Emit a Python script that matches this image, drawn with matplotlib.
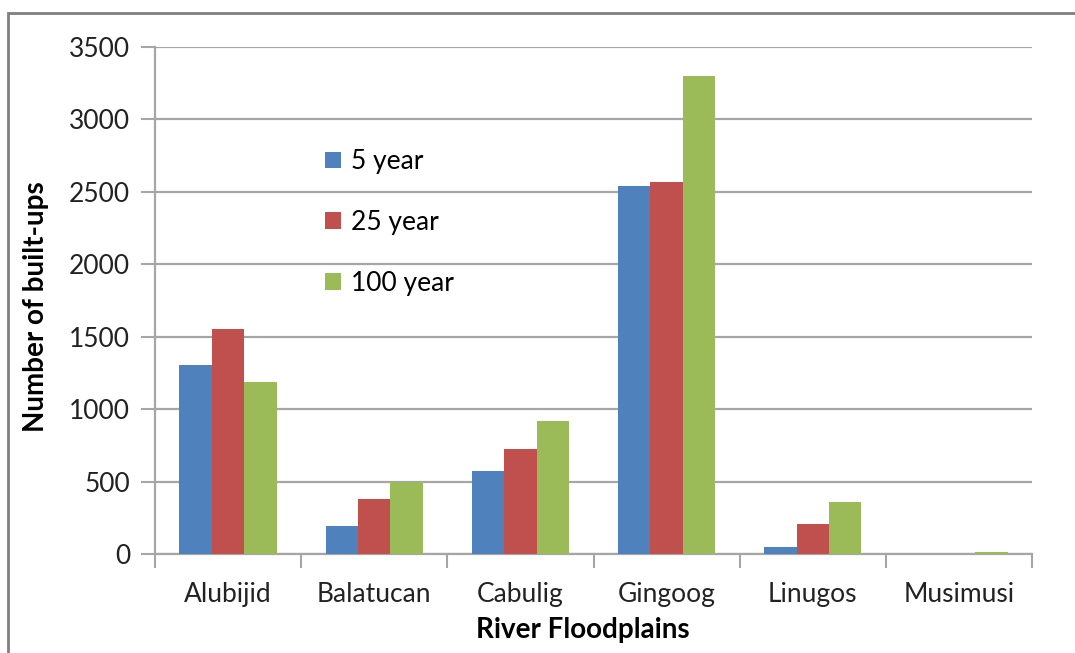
import numpy as np
import matplotlib
matplotlib.use("Agg")
import matplotlib.pyplot as plt
from matplotlib.patches import Rectangle

floodplains = ["Alubijid", "Balatucan", "Cabulig", "Gingoog", "Linugos", "Musimusi"]
series_names = ["5 year", "25 year", "100 year"]
year5 = [1304, 190, 576, 2539, 50, 0]
year25 = [1553, 378, 726, 2569, 207, 0]
year100 = [1187, 495, 921, 3300, 357, 15]
colors = ["#4F81BD", "#C0504D", "#9BBB59"]

plt.rcParams['font.family'] = ['Lato', 'DejaVu Sans']
fs = 19

fig = plt.figure(figsize=(10.75, 6.53), dpi=100)
ax = fig.add_axes([155/1075, 1 - 554/653, (1032 - 155)/1075, (554 - 47)/653])

x = np.arange(len(floodplains))
w = 0.222
for i, (vals, name) in enumerate(zip([year5, year25, year100], series_names)):
    ax.bar(x + (i - 1)*w, vals, width=w, color=colors[i], label=name, zorder=3)

ax.set_xlim(-0.5, len(floodplains) - 0.5)
ax.set_ylim(0, 3500)
ax.set_yticks(np.arange(0, 3501, 500))
ax.yaxis.grid(True, color="#a6a6a6", linewidth=1.6, zorder=0)
ax.set_axisbelow(True)

# category boundaries as tick marks, names in the middle
ax.set_xticks(np.arange(-0.5, len(floodplains), 1))
ax.set_xticklabels([])
ax.set_xticks(x, minor=True)
ax.set_xticklabels(floodplains, minor=True, fontsize=fs, color="#222222")
ax.tick_params(axis="x", which="minor", length=0, pad=20)
ax.tick_params(axis="x", which="major", length=10, width=1.5, color="#a6a6a6", direction="out")
ax.tick_params(axis="y", length=10, width=1.5, color="#a6a6a6", labelsize=fs,
               labelcolor="#222222", pad=8)

for s in ["top", "right"]:
    ax.spines[s].set_visible(False)
for s in ["left", "bottom"]:
    ax.spines[s].set_color("#a6a6a6")
    ax.spines[s].set_linewidth(1.6)
    ax.spines[s].set_zorder(2)

ax.set_xlabel("River Floodplains", fontsize=20, fontweight="bold")
ax.set_ylabel("Number of built-ups", fontsize=20, fontweight="bold")
ax.xaxis.set_label_coords(0.488, -0.124)
ax.yaxis.set_label_coords(-0.121, 0.487)

ax.legend(loc="upper left", bbox_to_anchor=(0.1665, 0.845), frameon=False, fontsize=fs,
          handlelength=0.6, handleheight=0.6, handletextpad=0.4, labelspacing=1.35)

# outer chart border (cropped at right and bottom)
fig.patches.append(Rectangle((8/1075, -0.1), 1.2, 1 - 13/653 + 0.1,
                             transform=fig.transFigure, fill=False,
                             edgecolor="#7f7f7f", linewidth=2))

fig.savefig("out.png", dpi=100)
